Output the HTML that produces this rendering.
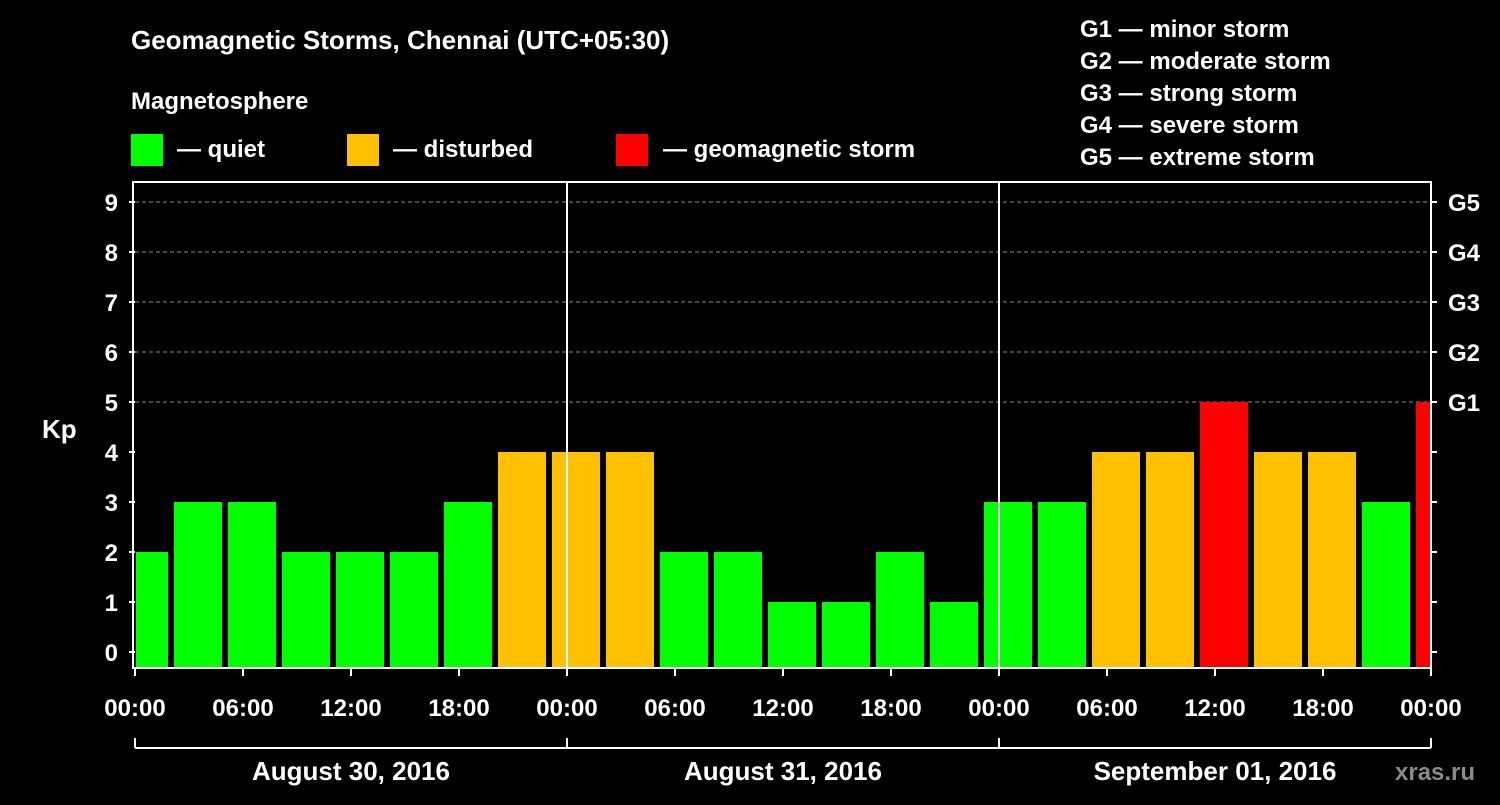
<!DOCTYPE html>
<html><head><meta charset="utf-8"><style>
body{margin:0;background:#000;width:1500px;height:800px;overflow:hidden;font-family:"Liberation Sans",sans-serif;}
svg text{font-family:"Liberation Sans",sans-serif;font-weight:bold;fill:#fff;}
</style></head><body>
<svg id="c" width="1500" height="800">
<text x="131" y="49" font-size="26">Geomagnetic Storms, Chennai (UTC+05:30)</text>
<text x="131" y="109" font-size="24">Magnetosphere</text>
<rect x="131" y="134" width="32" height="32" fill="#00ff00"/>
<text x="177" y="157" font-size="24">— quiet</text>
<rect x="347" y="134" width="32" height="32" fill="#ffc000"/>
<text x="393" y="157" font-size="24">— disturbed</text>
<rect x="616" y="134" width="32" height="32" fill="#ff0000"/>
<text x="663" y="157" font-size="24">— geomagnetic storm</text>
<g font-size="24">
<text x="1080" y="37">G1 — minor storm</text>
<text x="1080" y="69">G2 — moderate storm</text>
<text x="1080" y="101">G3 — strong storm</text>
<text x="1080" y="133">G4 — severe storm</text>
<text x="1080" y="165">G5 — extreme storm</text>
</g>
<text x="42" y="438" font-size="26">Kp</text>
<text x="1395" y="780" font-size="24" fill="#888" style="fill:#8a8a8a">xras.ru</text>
<g id="grid"></g><g id="bars"></g><g id="axes"></g>
</svg>
<script>
const kpValues=[2,3,3,2,2,2,3,4,4,4,2,2,1,1,2,1,3,3,4,4,5,4,4,3,5];
const yTicks=[0,1,2,3,4,5,6,7,8,9];
const gLabels=["G1","G2","G3","G4","G5"];
const xTickLabels=["00:00","06:00","12:00","18:00","00:00","06:00","12:00","18:00","00:00","06:00","12:00","18:00","00:00"];
const dayLabels=["August 30, 2016","August 31, 2016","September 01, 2016"];
const slotOffsetHours=-1;
const NS="http://www.w3.org/2000/svg";
const L=135,R=1431,T=182,B=668,pxH=18;
const y=v=>652-v*50, x=h=>L+h*pxH;
function mk(tag,attrs,parent,txt){const e=document.createElementNS(NS,tag);for(const k in attrs)e.setAttribute(k,attrs[k]);if(txt!==undefined)e.textContent=txt;parent.appendChild(e);return e;}
const grid=document.getElementById('grid'),bars=document.getElementById('bars'),axes=document.getElementById('axes');
yTicks.forEach(v=>{
 if(v>=5){const l=mk('line',{x1:L,x2:R,y1:y(v),y2:y(v),stroke:'#888','stroke-dasharray':'4,3','stroke-width':1},grid);
 
 }
 const t=mk('text',{x:118,y:y(v)+9,'font-size':24,'text-anchor':'end'},axes,String(v));
 
 
 mk('line',{x1:L-6,x2:L,y1:y(v),y2:y(v),stroke:'#fff','stroke-width':2},axes);
 mk('line',{x1:R,x2:R+6,y1:y(v),y2:y(v),stroke:'#fff','stroke-width':2},axes);
});
gLabels.forEach((g,i)=>{const t=mk('text',{x:1448,y:y(5+i)+9,'font-size':24},axes,g);
 
 });
kpValues.forEach((v,i)=>{
 const h0=slotOffsetHours+3*i;
 let x0=x(h0)+3,x1=x(h0+3)-3;
 x0=Math.max(x0,L+1);x1=Math.min(x1,R-1);
 const col=v>=5?'#ff0000':v>=4?'#ffc000':'#00ff00';
 const r=mk('rect',{x:x0,y:y(v),width:x1-x0,height:B-y(v),fill:col},bars);
 
 
});
mk('rect',{x:L-2,y:T,width:R-L+2,height:B-T,fill:'none',stroke:'#fff','stroke-width':2},axes);
[1,2].forEach(d=>mk('line',{x1:x(24*d),x2:x(24*d),y1:T,y2:B,stroke:'#fff','stroke-width':2},axes));
xTickLabels.forEach((s,i)=>{const xx=x(6*i);
 mk('line',{x1:xx,x2:xx,y1:B,y2:B+8,stroke:'#fff','stroke-width':2},axes);
 const t=mk('text',{x:xx,y:716,'font-size':24,'text-anchor':'middle'},axes,s);
 
 });
mk('line',{x1:L,x2:R,y1:748,y2:748,stroke:'#fff','stroke-width':2},axes);
[0,1,2,3].forEach(d=>mk('line',{x1:x(24*d),x2:x(24*d),y1:738,y2:748,stroke:'#fff','stroke-width':2},axes));
dayLabels.forEach((s,i)=>{const t=mk('text',{x:x(24*i+12),y:780,'font-size':26,'text-anchor':'middle'},axes,s);
 
 });
</script>
</body></html>
